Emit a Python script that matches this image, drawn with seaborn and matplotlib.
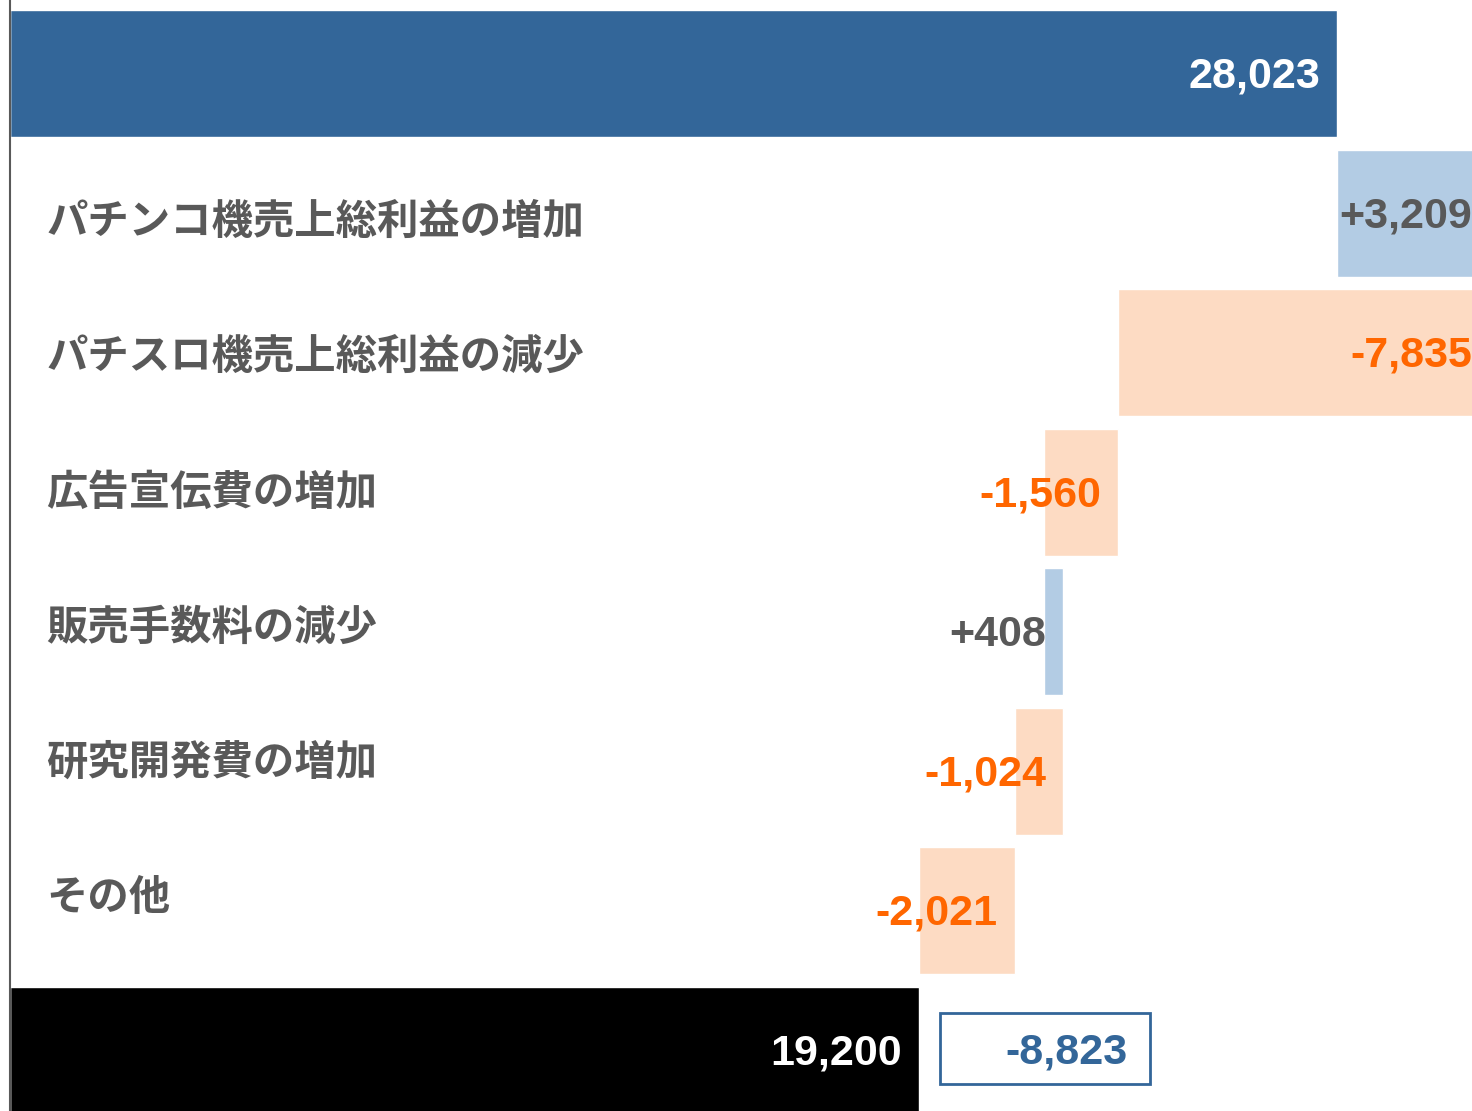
import numpy as np
import pandas as pd
import matplotlib
matplotlib.use("Agg")
import matplotlib.pyplot as plt
import seaborn as sns
from matplotlib.patches import Rectangle

# dados do gráfico (cascata horizontal)
categories = ["", "パチンコ機売上総利益の増加", "パチスロ機売上総利益の減少",
              "広告宣伝費の増加", "販売手数料の減少", "研究開発費の増加", "その他", ""]
start_value = 28023
changes = [3209, -7835, -1560, 408, -1024, -2021]
end_value = 19200
value_labels = ["28,023", "+3,209", "-7,835", "-1,560", "+408", "-1,024", "-2,021", "19,200"]
diff_label = "-8,823"

# calcular inicio e fim de cada barra
lefts = [0]
rights = [start_value]
running = start_value
for c in changes:
    new = running + c
    lefts.append(min(running, new))
    rights.append(max(running, new))
    running = new
lefts.append(0)
rights.append(end_value)

blue = "#336699"
light_blue = "#b3cce4"
peach = "#fddbc3"
orange = "#ff6600"
grey = "#595959"

colors = [blue] + [light_blue if c > 0 else peach for c in changes] + ["#000000"]
text_colors = ["white"] + [grey if c > 0 else orange for c in changes] + ["white"]

df = pd.DataFrame({"key": [str(i) for i in range(len(categories))],
                   "right": rights, "left": lefts})

sns.set_theme(style="white")
num_font = ["Liberation Sans", "DejaVu Sans"]
jp_font = ["Noto Sans CJK JP", "DejaVu Sans"]

fig = plt.figure(figsize=(14.72, 11.11), dpi=100)
ax = fig.add_axes([9.5 / 1472, 0, 1 - 9.5 / 1472, 1])

# barras até o fim e máscara branca até o início
sns.barplot(data=df, y="key", x="right", hue="key", palette=colors, orient="h",
            width=0.91, legend=False, ax=ax, saturation=1)
sns.barplot(data=df, y="key", x="left", color="white", orient="h",
            width=0.915, ax=ax, saturation=1)

ax.set_xlim(0, 30874)
ax.set_ylim(7.433, -0.527)
ax.set_xticks([])
ax.set_yticks([])
ax.set_xlabel("")
ax.set_ylabel("")
for s in ["top", "right", "bottom"]:
    ax.spines[s].set_visible(False)
ax.spines["left"].set_color(grey)
ax.spines["left"].set_linewidth(1.5)

# rótulos das categorias (espaçamento um pouco menor que o das barras)
for i, cat in enumerate(categories):
    if cat:
        ax.annotate(cat, xy=(0, i), xytext=(37, -9 + 4.37 * (i - 1)),
                    textcoords="offset pixels",
                    ha="left", va="center", fontsize=29.8, color=grey,
                    family=jp_font, fontweight="bold")

# rótulos dos valores
for i, (r, lab, tc) in enumerate(zip(rights, value_labels, text_colors)):
    ax.annotate(lab, xy=(r, i), xytext=(-17, -3), textcoords="offset pixels",
                ha="right", va="center", fontsize=31, color=tc,
                family=num_font, fontweight="bold", annotation_clip=False)

# caixa com a diferença total
n = len(categories) - 1
box_left = end_value + 440
box_w = 4430
ax.add_patch(Rectangle((box_left, n - 0.27), box_w, 0.51, facecolor="white",
                       edgecolor=blue, linewidth=2, zorder=5))
ax.annotate(diff_label, xy=(box_left + box_w, n), xytext=(-22, -2),
            textcoords="offset pixels", ha="right", va="center", fontsize=31,
            color=blue, family=num_font, fontweight="bold", zorder=6)

fig.savefig("out.png", dpi=100)
